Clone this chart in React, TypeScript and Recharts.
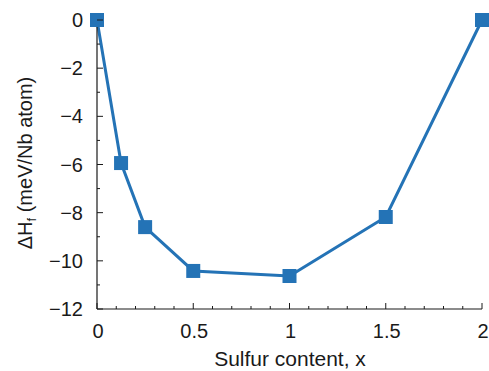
import React from "react";
import { LineChart, Line, XAxis, YAxis } from "recharts";

const sulfur = [0, 0.125, 0.25, 0.5, 1, 1.5, 2];
const formationEnergy = [0, -5.94, -8.6, -10.42, -10.63, -8.18, 0];

const xTicks = Array.from({ length: 21 }, (_, i) => Math.round(i * 10) / 100);
const xMajor = [0, 0.5, 1, 1.5, 2];
const yTicks = Array.from({ length: 13 }, (_, i) => -12 + i);
const yMajor = [-12, -10, -8, -6, -4, -2, 0];

const data = sulfur.map((x, i) => ({ x, dh: formationEnergy[i] }));

const BLUE = "#2473b6";
const FONT = "'Liberation Sans', Arial, Helvetica, sans-serif";
const INK = "#1a1a1a";

const isMajor = (list: number[], v: number) => list.some((m) => Math.abs(m - v) < 1e-6);
const fmt = (v: number) => (v < 0 ? "\u2212" + String(-v) : String(v));

/* ticks point inward, labels only on majors */
function BottomTick({ x, y, payload }: any) {
  const major = isMajor(xMajor, payload.value);
  return (
    <g>
      <line x1={x} y1={y} x2={x} y2={y - (major ? 6 : 3)} stroke={INK} strokeWidth={1} />
      {major && (
        <text x={x + 1} y={y + 28.5} textAnchor="middle" fontSize={20} fontFamily={FONT} fill={INK}>
          {fmt(payload.value)}
        </text>
      )}
    </g>
  );
}

function TopTick({ x, y, payload }: any) {
  const major = isMajor(xMajor, payload.value);
  return <line x1={x} y1={y} x2={x} y2={y + (major ? 6 : 3)} stroke={INK} strokeWidth={1} />;
}

function LeftTick({ x, y, payload }: any) {
  const major = isMajor(yMajor, payload.value);
  return (
    <g>
      <line x1={x} y1={y} x2={x + (major ? 6 : 3)} y2={y} stroke={INK} strokeWidth={1} />
      {major && (
        <text x={x - 14} y={y + 7} textAnchor="end" fontSize={20} fontFamily={FONT} fill={INK}>
          {fmt(payload.value)}
        </text>
      )}
    </g>
  );
}

function RightTick({ x, y, payload }: any) {
  const major = isMajor(yMajor, payload.value);
  return <line x1={x} y1={y} x2={x - (major ? 6 : 3)} y2={y} stroke={INK} strokeWidth={1} />;
}

function SquareDot({ cx, cy, index }: any) {
  return <rect key={index} x={cx - 7} y={cy - 7} width={14} height={14} fill={BLUE} />;
}

export default function App() {
  return (
    <div style={{ position: "absolute", left: 0, top: 0, width: 489, height: 371, background: "#fff" }}>
      <LineChart width={489} height={371} data={data} margin={{ top: 20, right: 7, bottom: 0, left: 0 }}>
        <XAxis
          dataKey="x"
          type="number"
          domain={[0, 2]}
          ticks={xTicks}
          interval={0}
          height={62}
          tickSize={0}
          tickMargin={0}
          tickLine={false}
          axisLine={{ stroke: INK, strokeWidth: 1.2 }}
          tick={<BottomTick />}
          label={{
            content: () => (
              <text x={290} y={366} textAnchor="middle" fontSize={21} fontFamily={FONT} fill={INK}>
                Sulfur content, x
              </text>
            ),
          }}
        />
        <XAxis
          xAxisId="top"
          dataKey="x"
          type="number"
          orientation="top"
          domain={[0, 2]}
          ticks={xTicks}
          interval={0}
          height={0}
          tickSize={0}
          tickMargin={0}
          tickLine={false}
          axisLine={{ stroke: INK, strokeWidth: 1.2 }}
          tick={<TopTick />}
        />
        <YAxis
          type="number"
          domain={[-12, 0]}
          ticks={yTicks}
          interval={0}
          width={97}
          tickSize={0}
          tickMargin={0}
          tickLine={false}
          axisLine={{ stroke: INK, strokeWidth: 1.2 }}
          tick={<LeftTick />}
          label={{
            content: () => (
              <text
                x={31.5}
                y={163}
                transform="rotate(-90 31.5 163)"
                textAnchor="middle"
                fontSize={20}
                fontFamily={FONT}
                fill={INK}
              >
                ΔH
                <tspan fontSize={13} dy={4}>f</tspan>
                <tspan dy={-4}> (meV/Nb atom)</tspan>
              </text>
            ),
          }}
        />
        <YAxis
          yAxisId="right"
          orientation="right"
          type="number"
          domain={[-12, 0]}
          ticks={yTicks}
          interval={0}
          width={0}
          tickSize={0}
          tickMargin={0}
          tickLine={false}
          axisLine={{ stroke: INK, strokeWidth: 1.2 }}
          tick={<RightTick />}
        />
        <Line
          dataKey="dh"
          type="linear"
          stroke={BLUE}
          strokeWidth={3}
          dot={<SquareDot />}
          activeDot={false}
          isAnimationActive={false}
        />
      </LineChart>
    </div>
  );
}
